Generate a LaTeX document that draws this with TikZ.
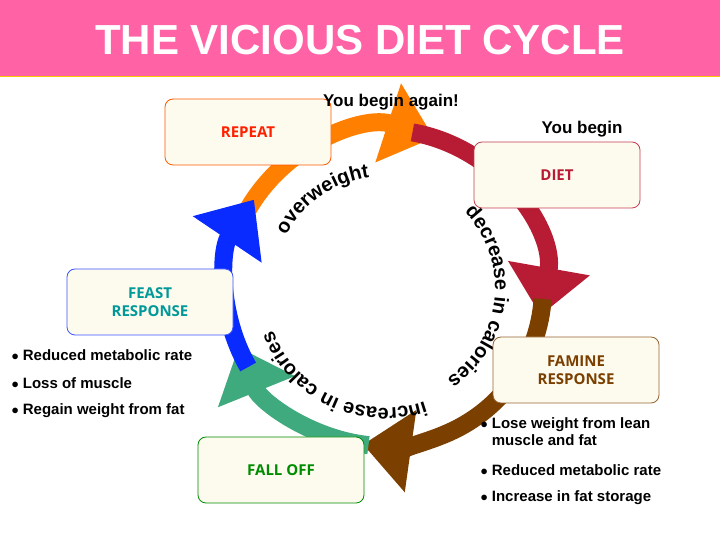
\documentclass[tikz,border=0pt]{standalone}
\usepackage{fontspec}
\setmainfont{Liberation Sans}
\newfontfamily\boxfont{Open Sans}
\usetikzlibrary{arrows.meta,decorations.text}
\definecolor{TitlePink}{HTML}{FF63A6}
\definecolor{RingOrange}{HTML}{FF7F00}
\definecolor{RingRed}{HTML}{B71C34}
\definecolor{RingBrown}{HTML}{7B3F00}
\definecolor{RingGreen}{HTML}{3FAA7E}
\definecolor{RingBlue}{HTML}{0A2BFF}
\definecolor{BoxFill}{HTML}{FDFAEE}
\tikzset{Box/.style={draw=#1, fill=BoxFill, rounded corners=8pt, minimum width=166pt, minimum height=66pt, line width=0.8pt, font=\boxfont\bfseries\fontsize{15}{18}\selectfont, align=center},
  Ring/.style={line width=18pt, color=#1, -{Triangle[length=48pt,width=80pt]}}}

\begin{document}
\begin{tikzpicture}[x=1pt, y=1pt, Item/.style={font=\bfseries\fontsize{15}{17}\selectfont, anchor=west}]
    \useasboundingbox (0,0) rectangle (720,540);
    \fill[TitlePink] (0,464) rectangle (720,540);
    \draw[yellow!60!orange, line width=1pt] (0,463.5) -- (720,463.5);
    \node[text=white, font=\bfseries\fontsize{42}{44}\selectfont] (title) at (360,500) {THE VICIOUS DIET CYCLE};

    % the cycle
    \begin{scope}[shift={(385,252)}]
        \draw[Ring=RingOrange] (150:158) arc[start angle=150, end angle=72, radius=158];
        \draw[Ring=RingRed] (80:158) arc[start angle=80, end angle=-10, radius=158];
        \draw[Ring=RingBrown] (-4:158) arc[start angle=-4, end angle=-98, radius=158];
        \draw[Ring=RingGreen] (-96:158) arc[start angle=-96, end angle=-158, radius=158];
        \draw[Ring=RingBlue] (-150:158) arc[start angle=-150, end angle=-214, radius=158];
        \path[decorate, decoration={text effects along path, text={overweight}, text align=center, text effects/.cd, text along path, character command=\bfseries\fontsize{20}{20}\selectfont}]
            (162:112) arc[start angle=162, end angle=88, radius=112];
        \path[decorate, decoration={text effects along path, text={decrease in calories}, text align=center, text effects/.cd, text along path, character command=\bfseries\fontsize{20}{20}\selectfont}]
            (66:110) arc[start angle=66, end angle=-78, radius=110];
        \path[decorate, decoration={text effects along path, text={increase in calories}, text align=center, text effects/.cd, text along path, character command=\bfseries\fontsize{20}{20}\selectfont}]
            (-44:120) arc[start angle=-44, end angle=-186, radius=120];
    \end{scope}

    % stages
    \node[Box=orange!70!red, text=red!75!orange] (repeat) at (248,408) {REPEAT};
    \node[Box=RingRed!85, text=RingRed] (diet) at (557,365) {DIET};
    \node[Box=RingBrown!80, text=RingBrown] (famine) at (576,170) {FAMINE\\RESPONSE};
    \node[Box=green!55!black, text=green!55!black] (falloff) at (281,70) {FALL OFF};
    \node[Box=RingBlue!80, text=teal!80!cyan] (feast) at (150,238) {FEAST\\RESPONSE};

    \node[font=\bfseries\fontsize{17}{19}\selectfont] (again) at (391,438) {You begin again!};
    \node[font=\bfseries\fontsize{17}{19}\selectfont] (begin) at (582,411) {You begin};

    \node[Item] (l1) at (8,185) {$\bullet$\ Reduced metabolic rate};
    \node[Item] (l2) at (8,157) {$\bullet$\ Loss of muscle};
    \node[Item] (l3) at (8,129) {$\bullet$\ Regain weight from fat};
    \node[Item, align=left] (r1) at (477,108) {$\bullet$\ Lose weight from lean\\\hphantom{$\bullet$\ }muscle and fat};
    \node[Item] (r2) at (477,70) {$\bullet$\ Reduced metabolic rate};
    \node[Item] (r3) at (477,42) {$\bullet$\ Increase in fat storage};
\end{tikzpicture}
\end{document}
